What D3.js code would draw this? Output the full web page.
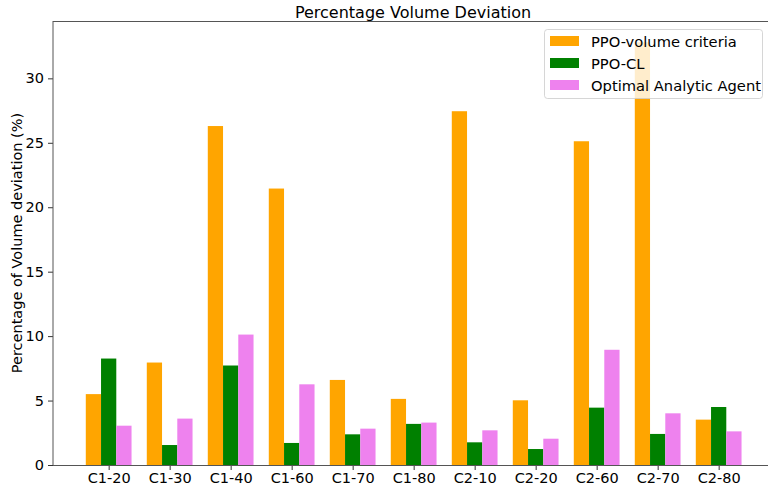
<!DOCTYPE html>
<html><head><meta charset="utf-8">
<script src="https://cdn.jsdelivr.net/npm/d3@7"></script>
<style>body{margin:0;background:#fff}svg{display:block;font-family:"DejaVu Sans",sans-serif}</style>
</head><body><div id="chart"></div>
<script>
const categories = ["C1-20","C1-30","C1-40","C1-60","C1-70","C1-80","C2-10","C2-20","C2-60","C2-70","C2-80"];
const ppoVolume = [5.5, 7.95, 26.3, 21.45, 6.6, 5.13, 27.45, 5.02, 25.12, 32.8, 3.52];
const ppoCL     = [8.26, 1.55, 7.72, 1.71, 2.38, 3.19, 1.76, 1.24, 4.45, 2.41, 4.5];
const optimal   = [3.05, 3.6, 10.12, 6.26, 2.82, 3.29, 2.69, 2.04, 8.94, 4.01, 2.61];
const seriesNames = ["PPO-volume criteria","PPO-CL","Optimal Analytic Agent"];
const seriesColors = ["#ffa500","#008000","#ee82ee"];
const yTicks = [0,5,10,15,20,25,30];

const W=768,H=487;
const mLeft=53, mTop=21, mBottom=465, unit=61;
const svg=d3.select("#chart").append("svg").attr("width",W).attr("height",H);
const barW=0.25;
const x=d3.scaleLinear().domain([-0.9125,10.9125]).range([mLeft,mLeft+11.825*unit]);
const y=d3.scaleLinear().domain([0,34.45]).range([mBottom,mTop]);
const series=[ppoVolume,ppoCL,optimal];

series.forEach((vals,s)=>{
  svg.append("g").selectAll("rect").data(vals).join("rect")
    .attr("x",(d,i)=>x(i+(s-1)*barW-barW/2))
    .attr("width",(d,i)=>x(i+barW)-x(i))
    .attr("y",d=>y(d)).attr("height",d=>y(0)-y(d))
    .attr("fill",seriesColors[s]);
});

// axes
const yAxis=d3.axisLeft(y).tickValues(yTicks).tickSize(5).tickPadding(4);
const gy=svg.append("g").attr("transform",`translate(${mLeft},0)`).call(yAxis);
gy.select(".domain").remove();
gy.selectAll("text").attr("font-size",14.5).attr("fill","#000").attr("font-family","DejaVu Sans");
gy.selectAll("line").attr("stroke","#333");

const xAxis=d3.axisBottom(x).tickValues(d3.range(categories.length)).tickFormat(i=>categories[i]).tickSize(5).tickPadding(3);
const gx=svg.append("g").attr("transform",`translate(0,${mBottom})`).call(xAxis);
gx.select(".domain").remove();
gx.selectAll("text").attr("font-size",14.5).attr("fill","#000").attr("font-family","DejaVu Sans");
gx.selectAll("line").attr("stroke","#333");

// spines
const mRight=x.range()[1];
svg.append("line").attr("x1",mLeft).attr("x2",mLeft).attr("y1",mTop).attr("y2",mBottom).attr("stroke","#555").attr("stroke-width",1);
svg.append("line").attr("x1",mLeft).attr("x2",mRight).attr("y1",mBottom+0.5).attr("y2",mBottom+0.5).attr("stroke","#555").attr("stroke-width",1);
svg.append("line").attr("x1",mLeft).attr("x2",mRight).attr("y1",mTop+0.5).attr("y2",mTop+0.5).attr("stroke","#555").attr("stroke-width",1);

// title
svg.append("text").attr("x",413).attr("y",18).attr("text-anchor","middle").attr("font-size",16).text("Percentage Volume Deviation");
// y label
svg.append("text").attr("transform",`translate(22,243) rotate(-90)`).attr("text-anchor","middle").attr("font-size",14.5).text("Percentage of Volume deviation (%)");

// legend
const lg=svg.append("g");
lg.append("rect").attr("x",544.5).attr("y",29.5).attr("width",218).attr("height",69).attr("rx",3)
  .attr("fill","#fff").attr("fill-opacity",0.8).attr("stroke","#ccc").attr("stroke-opacity",0.8);
seriesNames.forEach((n,i)=>{
  const cy=41+i*22;
  lg.append("rect").attr("x",550).attr("y",cy-5).attr("width",29).attr("height",10).attr("fill",seriesColors[i]);
  lg.append("text").attr("x",591).attr("y",cy+5.5).attr("font-size",14.7).text(n);
});
</script></body></html>
